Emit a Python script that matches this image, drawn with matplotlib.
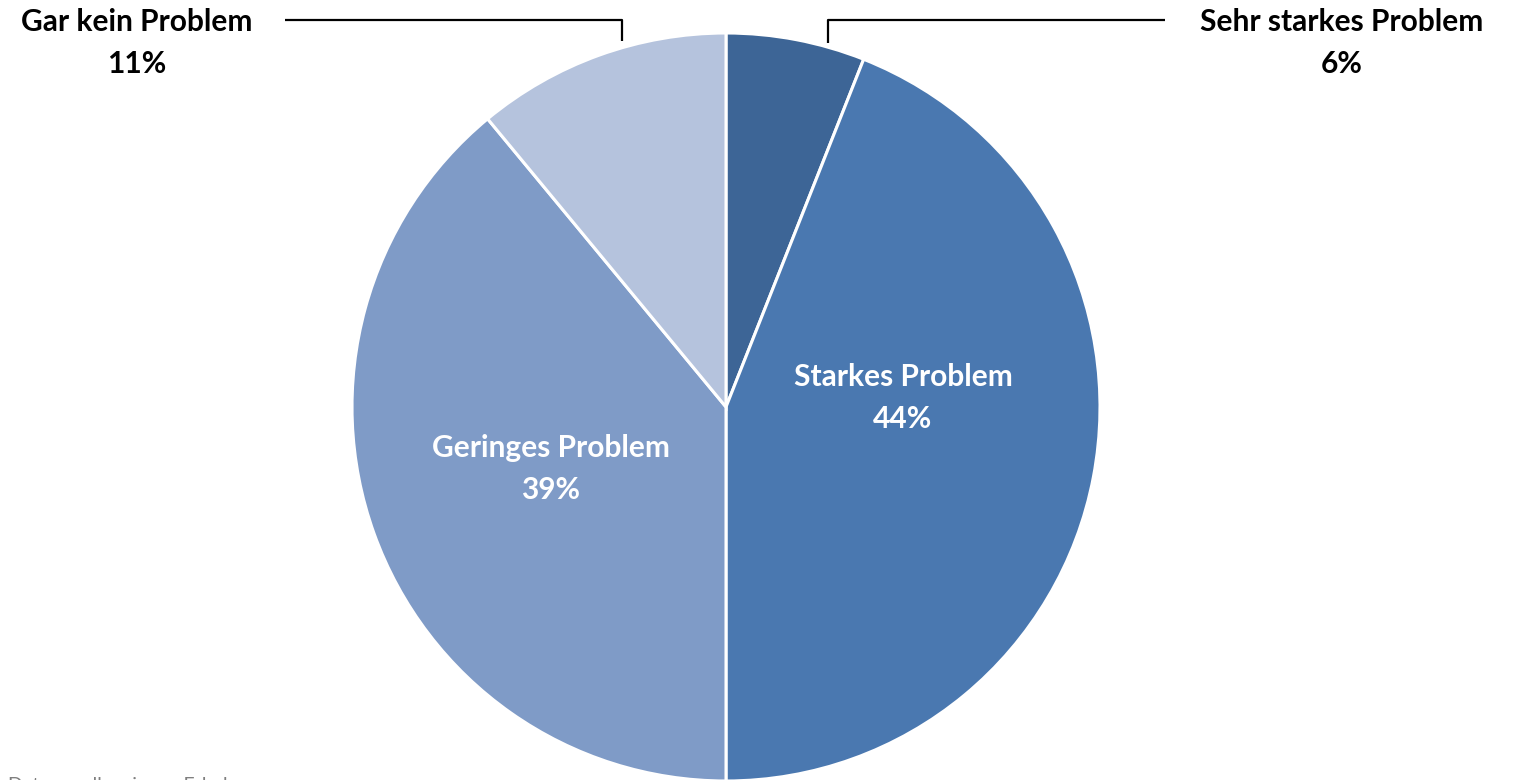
import matplotlib.pyplot as plt
import numpy as np

categories = ["Sehr starkes Problem", "Starkes Problem", "Geringes Problem", "Gar kein Problem"]
shares = [6, 44, 39, 11]
colors = ["#3D6596", "#4A78B0", "#7F9BC7", "#B5C3DD"]

W, H = 1514, 780
CX, CY, R = 726, 407, 374


def px(x, y):
    # figure pixel -> data coordinates (pie radius = 1)
    return (x - CX) / R, (CY - y) / R


plt.rcParams["font.family"] = ["Lato", "DejaVu Sans"]
fig = plt.figure(figsize=(W / 100, H / 100), dpi=100)
ax = fig.add_axes([0, 0, 1, 1])

wedges, _ = ax.pie(shares, colors=colors, startangle=90, counterclock=False,
                   radius=1, center=(0, 0), frame=True,
                   wedgeprops=dict(edgecolor="white", linewidth=2.2))
ax.set_xlim(px(0, 0)[0], px(W, 0)[0])
ax.set_ylim(px(0, H)[1], px(0, 0)[1])
ax.set_aspect("auto")
ax.axis("off")

labels = [f"{c}\n{v}%" for c, v in zip(categories, shares)]

# inside labels
for i, pos in [(1, (903, 398)), (2, (551, 469))]:
    ax.text(*px(*pos), labels[i], color="white", fontsize=21.5, fontweight="bold",
            ha="center", va="center", linespacing=1.6)

# outside labels with leader lines
for i, pos, line in [(0, (1342, 43), [(1165, 20), (828, 20), (828, 43)]),
                     (3, (137, 43), [(285, 20), (622, 20), (622, 41)])]:
    ax.text(*px(*pos), labels[i], color="black", fontsize=21.5, fontweight="bold",
            ha="center", va="center", linespacing=1.6)
    xs, ys = zip(*[px(*p) for p in line])
    ax.plot(xs, ys, color="black", linewidth=1.6, solid_capstyle="butt")

ax.text(*px(8, 777), "Datenquelle: eigene Erhebung", color="#7F7F7F",
        fontsize=14, ha="left", va="top")

fig.savefig("out.png", dpi=100)
